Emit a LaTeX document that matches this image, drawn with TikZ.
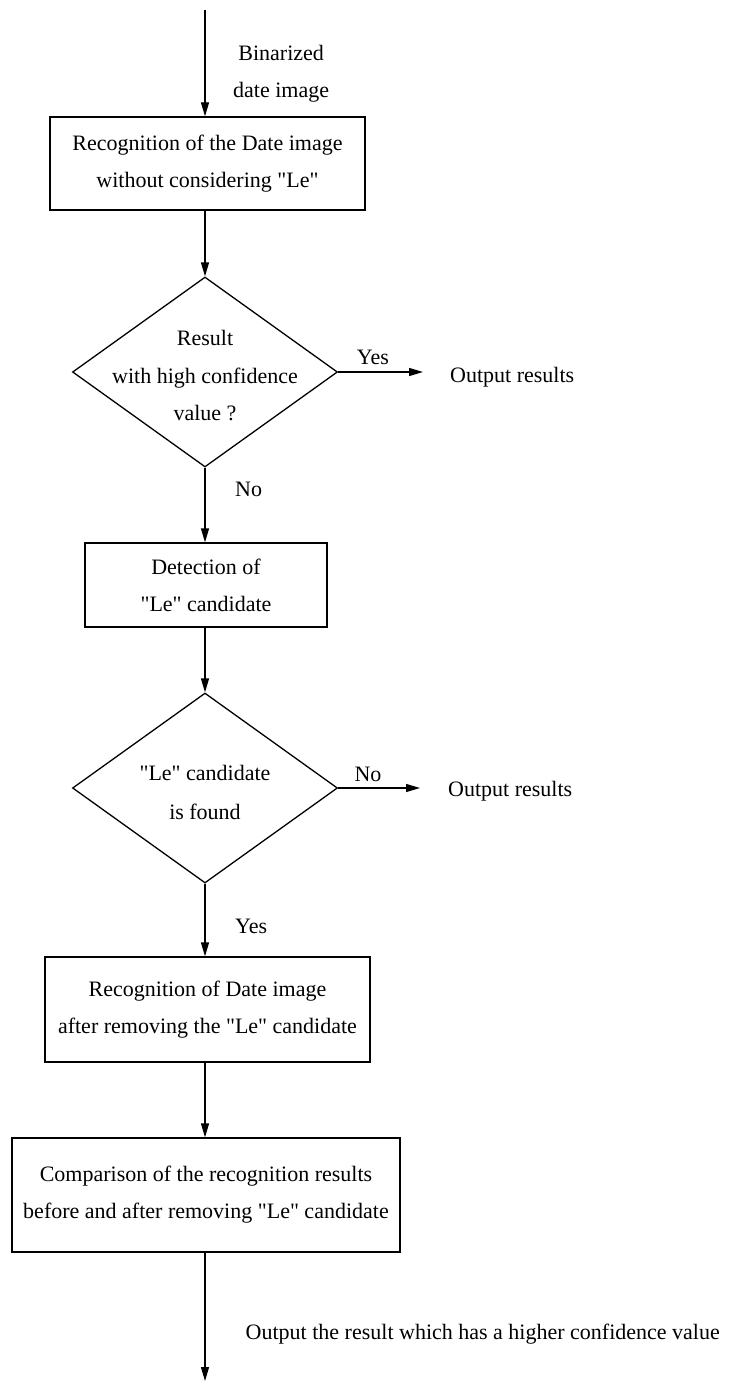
\documentclass[tikz,border=0pt]{standalone}
\usepackage{fontspec}
% plain straight double quotes, as typed
\setmainfont{Liberation Serif}[Ligatures=TeXOff]
\usetikzlibrary{shapes.geometric,arrows.meta}
\begin{document}
\begin{tikzpicture}[x=1pt,y=-1pt,
  every node/.style={font=\fontsize{22}{37}\selectfont, inner sep=0pt, align=center},
  procbox/.style={draw, line width=1.3pt, rectangle},
  decision/.style={draw, line width=1.3pt, diamond, minimum width=265pt, minimum height=190pt},
  flow/.style={line width=1.3pt, -{Triangle[length=14pt,width=8pt]}},
  ]
\useasboundingbox (0,0) rectangle (735,1383);

% entry and exit points of the main flow
\coordinate (in) at (205,10);
\coordinate (out) at (205,1381);

% process boxes
\node[procbox, minimum width=315pt, minimum height=93pt] (b1) at (207.5,163.5)
  {Recognition of the Date image\\without considering "Le"};
\node[procbox, minimum width=242pt, minimum height=84pt] (b2) at (206,585)
  {Detection of\\"Le" candidate};
\node[procbox, minimum width=325pt, minimum height=105pt] (b3) at (207.5,1009.5)
  {Recognition of Date image\\after removing the "Le" candidate};
\node[procbox, minimum width=388pt, minimum height=114pt] (b4) at (206,1195)
  {Comparison of the recognition results\\before and after removing "Le" candidate};

% decisions
\node[decision] (d1) at (205,372) {};
\node[font=\fontsize{22}{37.5}\selectfont] (d1t) at (205,376) {Result\\with high confidence\\value ?};
\node[decision] (d2) at (205,788) {};
\node[font=\fontsize{22}{39}\selectfont] (d2t) at (205,792) {"Le" candidate\\is found};

% side outputs
\node[anchor=west] (r1) at (450,377) {Output results};
\node[anchor=west] (r2) at (448,791) {Output results};
\node[anchor=east] (r3) at (720,1334) {Output the result which has a higher confidence value};

% flow labels
\node[anchor=west] (lin) at (233,74) {Binarized\\date image};
\node (lyes1) at (373,357) {Yes};
\node[anchor=west] (lno1) at (235,489) {No};
\node (lno2) at (368,774) {No};
\node[anchor=west] (lyes2) at (235,926) {Yes};

% connectors
\draw[flow] (in) -- (in |- b1.north);
\draw[flow] (d1.north |- b1.south) -- (d1.north);
\draw[flow] (d1.east) -- ([xshift=-27pt]d1.east -| r1.west);
\draw[flow] (d1.south) -- (d1.south |- b2.north);
\draw[flow] (d2.north |- b2.south) -- (d2.north);
\draw[flow] (d2.east) -- ([xshift=-28pt]d2.east -| r2.west);
\draw[flow] (d2.south) -- (d2.south |- b3.north);
\draw[flow] (d2.south |- b3.south) -- (d2.south |- b4.north);
\draw[flow] (d2.south |- b4.south) -- (out);
\end{tikzpicture}
\end{document}
